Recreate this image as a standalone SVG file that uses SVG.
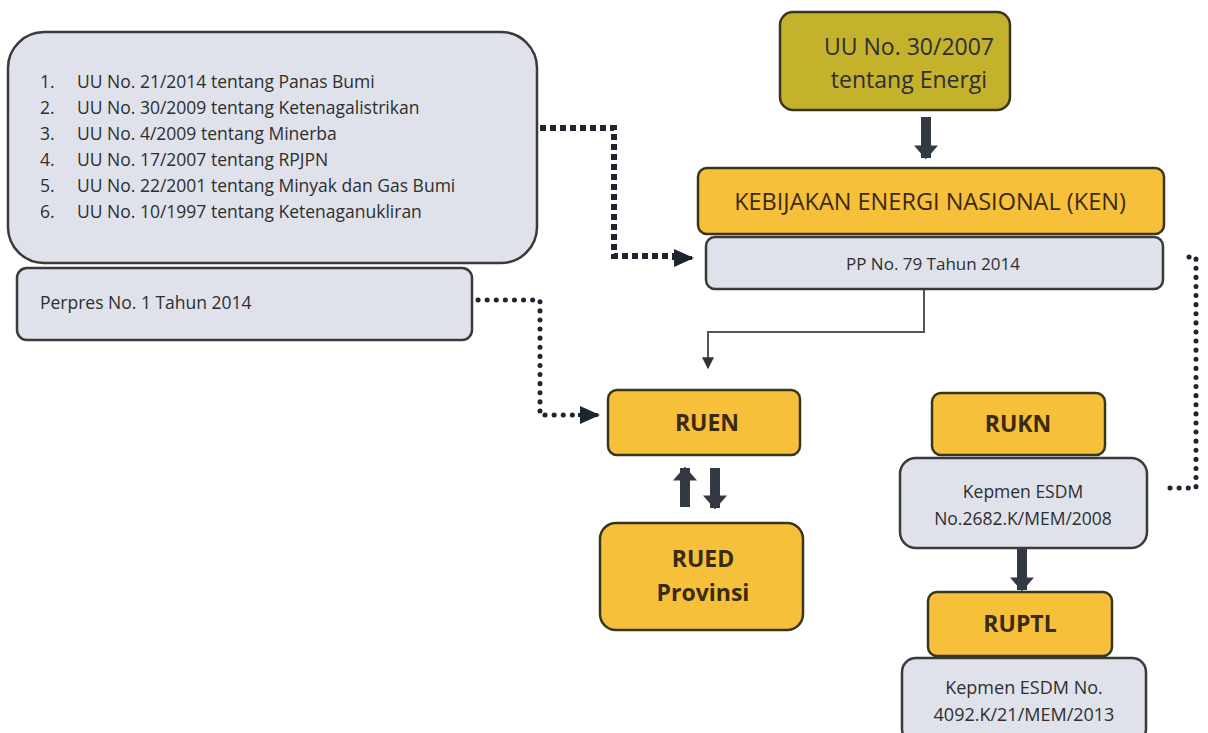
<svg xmlns="http://www.w3.org/2000/svg" width="1208" height="733" viewBox="0 0 1208 733">
<defs>
<style>
.g{fill:#dfe2ea;stroke:#3a3a3a;stroke-width:2.5}
.y{fill:#f6c03a;stroke:#3a3520;stroke-width:2.5}
.o{fill:#c4b22c;stroke:#3a3520;stroke-width:2.5}
text{font-family:"Open Sans","Noto Sans",sans-serif;fill:#2e2e2e}
.l{font-size:17.5px}
.b{font-weight:bold;font-size:23px;fill:#3a2a10}
.dot{fill:none;stroke:#1e2430;stroke-width:5;stroke-dasharray:0.1 9;stroke-linecap:round}
.sq{fill:none;stroke:#1e2430;stroke-width:6;stroke-dasharray:6 4}
.thick{fill:none;stroke:#333a44;stroke-width:10}
</style>
<marker id="ah" viewBox="0 0 10 10" refX="9" refY="5" markerWidth="20" markerHeight="18" markerUnits="userSpaceOnUse" orient="auto" preserveAspectRatio="none"><path d="M0,0L10,5L0,10z" fill="#1e2430"/></marker>
<marker id="ahs" viewBox="0 0 10 10" refX="9" refY="5" markerWidth="12" markerHeight="12" markerUnits="userSpaceOnUse" orient="auto"><path d="M0,0L10,5L0,10z" fill="#333"/></marker>
<marker id="aht" viewBox="0 0 10 10" refX="9" refY="5" markerWidth="14" markerHeight="24" markerUnits="userSpaceOnUse" orient="auto" preserveAspectRatio="none"><path d="M0,0L10,5L0,10z" fill="#333a44"/></marker>
</defs>

<g id="connectors">
<path class="sq" d="M540,128H614V256H674"/>
<path d="M672,258H692" stroke="#1e2430" stroke-width="4" marker-end="url(#ah)"/>
<path class="dot" d="M478,300H540V415H578"/>
<path d="M578,415H598" stroke="#1e2430" stroke-width="4" marker-end="url(#ah)"/>
<path class="dot" d="M1170,488H1196V257H1186"/>
<path d="M924,289V332H708V368" fill="none" stroke="#555" stroke-width="2" marker-end="url(#ahs)"/>
<path class="thick" d="M926,117V158" marker-end="url(#aht)"/>
<path class="thick" d="M1022,548V590" marker-end="url(#aht)"/>
<path class="thick" d="M685,507V468" marker-end="url(#aht)"/>
<path class="thick" d="M715,468V508" marker-end="url(#aht)"/>
</g>

<g id="uu-list">
<rect class="g" x="8" y="32" width="529" height="231" rx="36"/>
<text class="l" x="40" y="88">1.</text><text class="l" x="77" y="88">UU No. 21/2014 tentang Panas Bumi</text>
<text class="l" x="40" y="114">2.</text><text class="l" x="77" y="114">UU No. 30/2009 tentang Ketenagalistrikan</text>
<text class="l" x="40" y="140">3.</text><text class="l" x="77" y="140">UU No. 4/2009 tentang Minerba</text>
<text class="l" x="40" y="166">4.</text><text class="l" x="77" y="166">UU No. 17/2007 tentang RPJPN</text>
<text class="l" x="40" y="192">5.</text><text class="l" x="77" y="192">UU No. 22/2001 tentang Minyak dan Gas Bumi</text>
<text class="l" x="40" y="218">6.</text><text class="l" x="77" y="218">UU No. 10/1997 tentang Ketenaganukliran</text>
</g>

<g id="perpres">
<rect class="g" x="17" y="268" width="455" height="72" rx="10"/>
<text class="l" x="40" y="309">Perpres No. 1 Tahun 2014</text>
</g>

<g id="uu-energi">
<rect class="o" x="780" y="12" width="230" height="98" rx="13"/>
<text x="909" y="55" text-anchor="middle" font-size="23">UU No. 30/2007</text>
<text x="909" y="88" text-anchor="middle" font-size="23">tentang Energi</text>
</g>

<g id="ken">
<rect class="y" x="698" y="168" width="466" height="66" rx="9"/>
<text x="930" y="210" text-anchor="middle" font-size="23.5" style="fill:#3a2a10">KEBIJAKAN ENERGI NASIONAL (KEN)</text>
</g>

<g id="pp">
<rect class="g" x="706" y="237" width="457" height="52" rx="9"/>
<text x="933" y="270" text-anchor="middle" font-size="17">PP No. 79 Tahun 2014</text>
</g>

<g id="ruen">
<rect class="y" x="608" y="390" width="192" height="65" rx="9"/>
<text class="b" x="707" y="431" text-anchor="middle">RUEN</text>
</g>

<g id="rued">
<rect class="y" x="600" y="523" width="203" height="107" rx="16"/>
<text class="b" x="703" y="567" text-anchor="middle">RUED</text>
<text class="b" x="703" y="601" text-anchor="middle" font-size="22">Provinsi</text>
</g>

<g id="rukn">
<rect class="y" x="932" y="393" width="173" height="62" rx="9"/>
<text class="b" x="1018" y="432" text-anchor="middle" font-size="22">RUKN</text>
</g>

<g id="kepmen1">
<rect class="g" x="900" y="458" width="247" height="90" rx="16"/>
<text x="1023" y="498" text-anchor="middle" font-size="17.5">Kepmen ESDM</text>
<text x="1023" y="525" text-anchor="middle" font-size="17.5">No.2682.K/MEM/2008</text>
</g>

<g id="ruptl">
<rect class="y" x="928" y="592" width="184" height="64" rx="9"/>
<text class="b" x="1020" y="632" text-anchor="middle" font-size="22">RUPTL</text>
</g>

<g id="kepmen2">
<rect class="g" x="902" y="658" width="244" height="85" rx="14"/>
<text x="1024" y="694" text-anchor="middle" font-size="18">Kepmen ESDM No.</text>
<text x="1024" y="721" text-anchor="middle" font-size="18">4092.K/21/MEM/2013</text>
</g>
</svg>
